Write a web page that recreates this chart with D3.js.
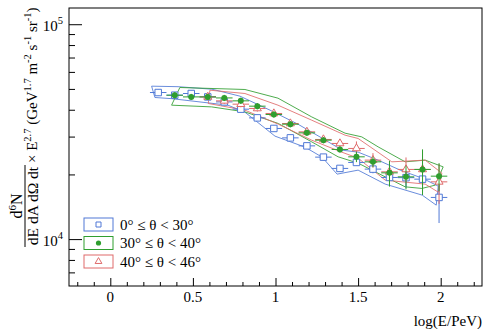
<!DOCTYPE html>
<html><head><meta charset="utf-8">
<script src="https://cdn.jsdelivr.net/npm/d3@7"></script>
<style>
html,body{margin:0;padding:0;background:#fff;}
svg{display:block;}
svg text{font-family:'Liberation Serif','Times New Roman',Times,'DejaVu Serif',serif;}
</style></head>
<body><svg id="c" width="498" height="329"></svg>
<script>
// ---------- data ----------
const xTicks = [0, 0.5, 1, 1.5, 2];
const xTickLabels = ["0", "0.5", "1", "1.5", "2"];
const yMajorTicks = [1e4, 1e5];
const yMajorExp = ["4", "5"];

const seriesNames = ["0\u00B0 \u2264 \u03B8 < 30\u00B0", "30\u00B0 \u2264 \u03B8 < 40\u00B0", "40\u00B0 \u2264 \u03B8 < 46\u00B0"];

const blueX = [0.29,0.39,0.49,0.59,0.69,0.79,0.89,0.99,1.09,1.19,1.29,1.39,1.49,1.59,1.69,1.79,1.89,1.99];
const blueY = [48100,46750,47600,45900,43500,40250,36660,32730,29590,27160,24070,21330,22740,21170,19360,19320,19010,15630];
const blueErr = [1590,1540,1570,1510,1440,1330,1210,1080,980,900,790,700,750,930,1390,1950,2380,3750];

const greenX = [0.39,0.49,0.59,0.69,0.79,0.89,0.99,1.09,1.19,1.29,1.39,1.49,1.59,1.69,1.79,1.89,1.99];
const greenY = [46750,45900,45900,45400,44000,41560,38020,34260,31220,28870,26140,24150,22890,20340,19490,21100,19630];
const greenErr = [1540,1510,1510,1500,1450,1370,1250,1130,1030,950,860,1330,1260,2790,2440,5060,2940];

const redX = [0.59,0.69,0.79,0.89,0.99,1.09,1.19,1.29,1.39,1.49,1.59,1.69,1.79,1.89,1.99];
const redY = [45900,44000,42460,40550,38430,34520,31560,29090,27870,26420,23310,20560,21100,21100,18470];
const redErr = [1510,1450,1400,1340,1270,1140,1040,960,920,2060,1820,2320,2890,4430,3880];
const xHalfWidth = 0.05;

// systematic bands: outline polygons (upper edge left->right, lower edge right->left)
const blueBandX = [0.25,0.41,0.615,0.785,0.967,1.136,1.282,1.403,1.5,1.621,1.755,1.888,1.985,
                   1.973,1.888,1.664,1.5,1.373,1.282,1.179,0.997,0.815,0.712,0.373,0.27];
const blueBandY = [51500,51200,49850,46260,39810,34260,29500,25940,25390,23310,20940,19220,17640,
                   14390,16020,18030,20940,20060,24070,26790,30140,38960,42000,45030,45610];
const greenBandX = [0.421,0.815,1.015,1.219,1.421,1.522,1.621,1.785,1.906,2.015,
                    1.967,1.886,1.785,1.664,1.5,1.379,1.219,1.017,0.815,0.613,0.371];
const greenBandY = [50760,49690,45280,37050,31120,29910,26880,22890,23310,21690,
                    17830,17210,17510,19490,22570,24150,28360,34520,39090,41240,42000];
const redBandX = [0.603,0.815,1.015,1.219,1.421,1.5,1.704,1.906,2.007,
                  1.985,1.906,1.785,1.664,1.5,1.401,1.219,1.017,0.815,0.593];
const redBandY = [49320,47600,42000,35770,30460,29400,22890,23310,20280,
                  16540,18030,18410,18810,23810,25390,28870,34260,39810,42770];

const colors = {blue:"#5079d6", green:"#2f9e2f", red:"#df6a6a"};

// ---------- layout ----------
const svg = d3.select("#c");
const L = 69, R = 482, T = 8, B = 286;
const x = d3.scaleLinear().domain([-0.25, 2.25]).range([L, R]);
const y = d3.scaleLog().domain([6050, 119000]).range([B, T]);

// frame
svg.append("rect").attr("x", L).attr("y", T).attr("width", R - L).attr("height", B - T)
  .attr("fill", "none").attr("stroke", "#000").attr("stroke-width", 1);

// x axis ticks (inward)
const xAxis = d3.axisBottom(x).tickValues(d3.range(-0.2, 2.25, 0.1).map(v => +v.toFixed(2)))
  .tickSizeInner(-4).tickSizeOuter(0).tickFormat("");
const gx = svg.append("g").attr("transform", `translate(0,${B})`).call(xAxis);
gx.select(".domain").remove();
gx.selectAll(".tick line").attr("y2", d => (Math.abs(d * 2 - Math.round(d * 2)) < 1e-6) ? -8 : -4);
xTicks.forEach((v, i) => {
  svg.append("text").attr("x", x(v)).attr("y", 302).attr("text-anchor", "middle")
    .attr("font-size", 15).text(xTickLabels[i]);
});
svg.append("text").attr("x", R).attr("y", 326).attr("text-anchor", "end")
  .attr("font-size", 15).text("log(E/PeV)");

// y axis ticks
const yMinor = [];
[1e3, 1e4].forEach(dec => { for (let k = 2; k <= 9; k++) { const v = k * dec; if (v >= 6050 && v <= 119000) yMinor.push(v); } });
const yAxis = d3.axisLeft(y).tickValues(yMinor.concat(yMajorTicks)).tickSizeInner(-6).tickSizeOuter(0).tickFormat("");
const gy = svg.append("g").attr("transform", `translate(${L},0)`).call(yAxis);
gy.select(".domain").remove();
gy.selectAll(".tick line").attr("x2", d => yMajorTicks.includes(d) ? 13 : 6);
yMajorTicks.forEach((v, i) => {
  const t = svg.append("text").attr("x", 63).attr("y", y(v) + 7).attr("text-anchor", "end").attr("font-size", 15);
  t.append("tspan").text("10");
  t.append("tspan").attr("font-size", 10.5).attr("dy", -7).text(yMajorExp[i]);
});

// y axis title (rotated)
const gt = svg.append("g").attr("transform", "rotate(-90)");
function rich(sel, parts, fs, sfs) {
  let shift = 0;
  parts.forEach(p => {
    const target = p[1] ? -6 : 0;
    sel.append("tspan").attr("dy", target - shift).attr("font-size", p[1] ? sfs : fs).text(p[0]);
    shift = target;
  });
}
const num = gt.append("text").attr("x", -206).attr("y", 21.5).attr("text-anchor", "middle");
rich(num, [["d", 0], ["6", 1], ["N", 0]], 16, 11);
gt.append("line").attr("x1", -247).attr("x2", -165).attr("y1", 25).attr("y2", 25).attr("stroke", "#000").attr("stroke-width", 1);
gt.append("text").attr("x", -206).attr("y", 37.5).attr("text-anchor", "middle").attr("font-size", 15.5).text("dE dA d\u03A9 dt");
const rest = gt.append("text").attr("x", -163).attr("y", 37).attr("text-anchor", "start");
rich(rest, [["\u00D7 E", 0], ["2.7", 1], [" (GeV", 0], ["1.7", 1], [" m", 0], ["-2", 1], [" s", 0], ["-1", 1], [" sr", 0], ["-1", 1], [")", 0]], 15, 10.5);

// ---------- plot content ----------
const plot = svg.append("g");
const line = d3.line().x(d => x(d[0])).y(d => y(d[1]));
function band(xs, ys, col) {
  const pts = xs.map((v, i) => [v, ys[i]]);
  pts.push(pts[0]);
  plot.append("path").attr("d", line(pts)).attr("fill", "none").attr("stroke", col)
    .attr("stroke-width", 1).attr("stroke-opacity", 0.85);
}
band(blueBandX, blueBandY, colors.blue);
band(greenBandX, greenBandY, colors.green);
band(redBandX, redBandY, colors.red);

function errors(xs, ys, es, col) {
  xs.forEach((v, i) => {
    plot.append("line").attr("x1", x(v - xHalfWidth)).attr("x2", x(v + xHalfWidth))
      .attr("y1", y(ys[i])).attr("y2", y(ys[i])).attr("stroke", col).attr("stroke-width", 1);
    plot.append("line").attr("x1", x(v)).attr("x2", x(v))
      .attr("y1", y(ys[i] - es[i])).attr("y2", y(ys[i] + es[i])).attr("stroke", col).attr("stroke-width", 1);
  });
}
const sq = d3.symbol().type(d3.symbolSquare).size(42);
const tri = d3.symbol().type(d3.symbolTriangle).size(28);
function markers(xs, ys, col, kind) {
  xs.forEach((v, i) => {
    const cx = x(v), cy = y(ys[i]);
    if (kind === "square") {
      plot.append("path").attr("d", sq()).attr("transform", `translate(${cx},${cy})`)
        .attr("fill", "#fff").attr("stroke", col).attr("stroke-width", 1);
    } else if (kind === "circle") {
      plot.append("circle").attr("cx", cx).attr("cy", cy).attr("r", 3).attr("fill", col);
    } else {
      plot.append("path").attr("d", tri()).attr("transform", `translate(${cx},${cy})`)
        .attr("fill", "#fff").attr("stroke", col).attr("stroke-width", 1);
    }
  });
}
errors(blueX, blueY, blueErr, colors.blue);
markers(blueX, blueY, colors.blue, "square");
errors(redX, redY, redErr, colors.red);
markers(redX, redY, colors.red, "triangle");
errors(greenX, greenY, greenErr, colors.green);
markers(greenX, greenY, colors.green, "circle");

// ---------- legend ----------
const legCols = [colors.blue, colors.green, colors.red];
const legKinds = ["square", "circle", "triangle"];
const legY = [224.5, 243, 261.5];
legCols.forEach((c, i) => {
  svg.append("rect").attr("x", 84).attr("y", legY[i] - 6.5).attr("width", 29).attr("height", 13)
    .attr("fill", "#fff").attr("stroke", c).attr("stroke-width", 1);
  const cx = 98.5, cy = legY[i];
  if (legKinds[i] === "square") {
    svg.append("path").attr("d", d3.symbol().type(d3.symbolSquare).size(25)()).attr("transform", `translate(${cx},${cy})`)
      .attr("fill", "#fff").attr("stroke", c);
  } else if (legKinds[i] === "circle") {
    svg.append("circle").attr("cx", cx).attr("cy", cy).attr("r", 2.6).attr("fill", c);
  } else {
    svg.append("path").attr("d", d3.symbol().type(d3.symbolTriangle).size(20)()).attr("transform", `translate(${cx},${cy})`)
      .attr("fill", "#fff").attr("stroke", c);
  }
  svg.append("text").attr("x", 120).attr("y", legY[i] + 5).attr("font-size", 15).text(seriesNames[i]);
});
</script></body></html>
